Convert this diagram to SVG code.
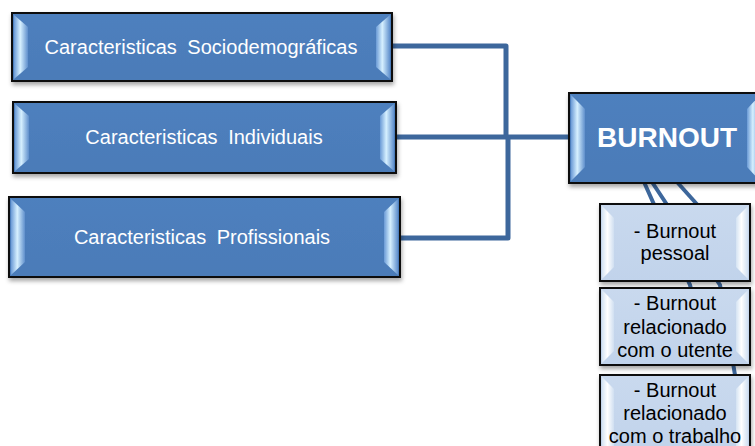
<svg xmlns="http://www.w3.org/2000/svg" width="755" height="446" viewBox="0 0 755 446">
  <defs>
    <filter id="shadow" x="-10%" y="-10%" width="130%" height="140%">
      <feDropShadow dx="1" dy="3" stdDeviation="2" flood-color="#000" flood-opacity="0.35"/>
    </filter>
    <linearGradient id="darkFill" x1="0" y1="0" x2="0" y2="1">
      <stop offset="0" stop-color="#4e80be"/>
      <stop offset="1" stop-color="#4b7bb8"/>
    </linearGradient>
    <linearGradient id="lightFill" x1="0" y1="0" x2="0" y2="1">
      <stop offset="0" stop-color="#c9d9ee"/>
      <stop offset="1" stop-color="#c1d3eb"/>
    </linearGradient>
    <linearGradient id="bevelDark" x1="0" y1="0" x2="1" y2="0">
      <stop offset="0" stop-color="#6a9ad6"/>
      <stop offset="0.45" stop-color="#d6f0ff"/>
      <stop offset="1" stop-color="#5f8fcc"/>
    </linearGradient>
    <linearGradient id="bevelLight" x1="0" y1="0" x2="1" y2="0">
      <stop offset="0" stop-color="#d4e3f3"/>
      <stop offset="0.45" stop-color="#ffffff"/>
      <stop offset="1" stop-color="#d0dff1"/>
    </linearGradient>
    <style>
      .frame { stroke: #111; stroke-width: 2; }
      .dark { fill: url(#darkFill); }
      .light { fill: url(#lightFill); }
      .bevD { fill: url(#bevelDark); }
      .bevL { fill: url(#bevelLight); }
      .label { font-family: "Liberation Sans", Arial, sans-serif; font-size: 20px; fill: #ffffff; text-anchor: middle; word-spacing: 5px; }
      .title { font-family: "Liberation Sans", Arial, sans-serif; font-size: 28px; font-weight: bold; fill: #ffffff; text-anchor: middle; }
      .sub { font-family: "Liberation Sans", Arial, sans-serif; font-size: 20px; fill: #000000; text-anchor: middle; }
      .link { fill: none; stroke: #3d679c; stroke-width: 5; stroke-linejoin: round; }
      .thin { fill: none; stroke: #3d679c; stroke-width: 4; }
    </style>
  </defs>

  <!-- connectors -->
  <g id="connectors">
    <polyline class="link" points="392,46 506,46 506,137"/>
    <polyline class="link" points="396,137 569,137"/>
    <polyline class="link" points="400,238 508,238 508,137"/>
    <path class="thin" d="M644,182 L690,285 L702,335"/>
    <path class="thin" d="M652,182 L720,285 L735,375 L740,420"/>
    <path class="thin" d="M677,182 L720,230"/>
  </g>

  <!-- Caracteristicas Sociodemograficas -->
  <g id="node-sociodemograficas">
    <rect class="frame dark" x="12" y="13" width="380" height="68" filter="url(#shadow)"/>
    <polygon class="bevD" points="14,15 28,27 28,67 14,79"/>
    <polygon class="bevD" points="390,15 376,27 376,67 390,79"/>
    <text class="label" x="201" y="54">Caracteristicas Sociodemográficas</text>
  </g>

  <!-- Caracteristicas Individuais -->
  <g id="node-individuais">
    <rect class="frame dark" x="13" y="102" width="383" height="71" filter="url(#shadow)"/>
    <polygon class="bevD" points="15,104 29,116 29,159 15,171"/>
    <polygon class="bevD" points="394,104 380,116 380,159 394,171"/>
    <text class="label" x="204" y="144">Caracteristicas Individuais</text>
  </g>

  <!-- Caracteristicas Profissionais -->
  <g id="node-profissionais">
    <rect class="frame dark" x="9" y="197" width="391" height="80" filter="url(#shadow)"/>
    <polygon class="bevD" points="11,199 25,212 25,262 11,275"/>
    <polygon class="bevD" points="398,199 384,212 384,262 398,275"/>
    <text class="label" x="202" y="244">Caracteristicas Profissionais</text>
  </g>

  <!-- BURNOUT -->
  <g id="node-burnout">
    <rect class="frame dark" x="569" y="93" width="200" height="90" filter="url(#shadow)"/>
    <polygon class="bevD" points="571,95 585,109 585,167 571,181"/>
    <polygon class="bevD" points="760,95 747,109 747,167 760,181"/>
    <text class="title" x="667" y="147">BURNOUT</text>
  </g>

  <!-- Burnout pessoal -->
  <g id="node-pessoal">
    <rect class="frame light" x="600" y="204" width="150" height="77" filter="url(#shadow)"/>
    <polygon class="bevL" points="602,206 614,218 614,267 602,279"/>
    <polygon class="bevL" points="748,206 736,218 736,267 748,279"/>
    <text class="sub" x="675" y="238">- Burnout</text>
    <text class="sub" x="675" y="260">pessoal</text>
  </g>

  <!-- Burnout relacionado com o utente -->
  <g id="node-utente">
    <rect class="frame light" x="600" y="288" width="150" height="77" filter="url(#shadow)"/>
    <polygon class="bevL" points="602,290 614,302 614,351 602,363"/>
    <polygon class="bevL" points="748,290 736,302 736,351 748,363"/>
    <text class="sub" x="675" y="310">- Burnout</text>
    <text class="sub" x="675" y="334">relacionado</text>
    <text class="sub" x="675" y="357">com o utente</text>
  </g>

  <!-- Burnout relacionado com o trabalho -->
  <g id="node-trabalho">
    <rect class="frame light" x="600" y="375" width="150" height="80" filter="url(#shadow)"/>
    <polygon class="bevL" points="602,377 614,389 614,450 602,450"/>
    <polygon class="bevL" points="748,377 736,389 736,450 748,450"/>
    <text class="sub" x="675" y="397">- Burnout</text>
    <text class="sub" x="675" y="420">relacionado</text>
    <text class="sub" x="675" y="443">com o trabalho</text>
  </g>
</svg>
